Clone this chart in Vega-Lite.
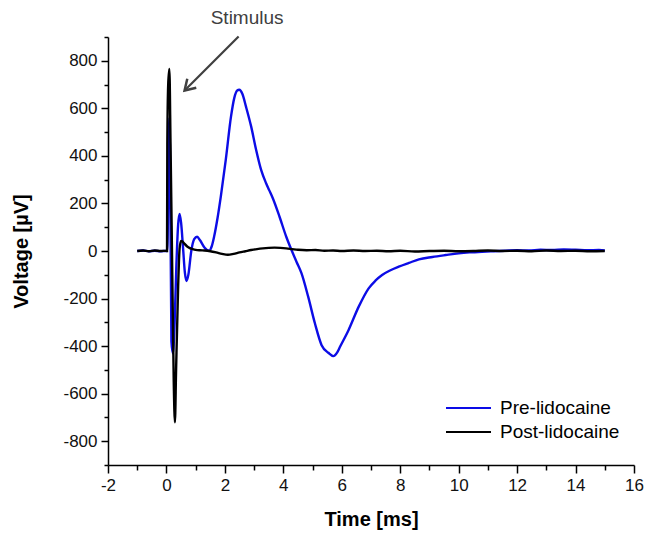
{
  "$schema": "https://vega.github.io/schema/vega-lite/v6.json",
  "width": 526,
  "height": 428,
  "autosize": {"type": "none"},
  "padding": {"left": 108, "top": 37, "right": 13, "bottom": 68},
  "config": {
    "view": {"stroke": null},
    "font": "Liberation Sans",
    "axis": {
      "grid": false,
      "domainColor": "#000",
      "domainWidth": 1.5,
      "tickColor": "#000",
      "tickWidth": 1.5,
      "labelFont": "Liberation Sans",
      "labelFontSize": 17,
      "labelColor": "#111",
      "titleFont": "Liberation Sans",
      "titleFontSize": 20,
      "titleFontWeight": "bold",
      "titleColor": "#000"
    },
    "legend": {
      "orient": "none",
      "legendX": 337,
      "legendY": 361,
      "padding": 0,
      "symbolType": "stroke",
      "symbolSize": 2025,
      "symbolStrokeWidth": 2,
      "clipHeight": 20,
      "labelFont": "Liberation Sans",
      "labelFontSize": 19,
      "labelColor": "#000",
      "labelOffset": 8,
      "rowPadding": 4
    }
  },
  "datasets": {
    "curves": [
      {"series": "Pre-lidocaine", "t": -1, "v": 0},
      {"series": "Pre-lidocaine", "t": -0.8, "v": 2},
      {"series": "Pre-lidocaine", "t": -0.6, "v": -1},
      {"series": "Pre-lidocaine", "t": -0.4, "v": 1},
      {"series": "Pre-lidocaine", "t": -0.2, "v": -1},
      {"series": "Pre-lidocaine", "t": 0, "v": 1},
      {"series": "Pre-lidocaine", "t": 0.03, "v": 0},
      {"series": "Pre-lidocaine", "t": 0.07, "v": 350},
      {"series": "Pre-lidocaine", "t": 0.1, "v": 560},
      {"series": "Pre-lidocaine", "t": 0.13, "v": 300},
      {"series": "Pre-lidocaine", "t": 0.17, "v": -380},
      {"series": "Pre-lidocaine", "t": 0.22, "v": -430},
      {"series": "Pre-lidocaine", "t": 0.28, "v": -300},
      {"series": "Pre-lidocaine", "t": 0.34, "v": -60},
      {"series": "Pre-lidocaine", "t": 0.4, "v": 110},
      {"series": "Pre-lidocaine", "t": 0.45, "v": 156},
      {"series": "Pre-lidocaine", "t": 0.5, "v": 120},
      {"series": "Pre-lidocaine", "t": 0.57, "v": 10},
      {"series": "Pre-lidocaine", "t": 0.63, "v": -90},
      {"series": "Pre-lidocaine", "t": 0.69, "v": -126},
      {"series": "Pre-lidocaine", "t": 0.75, "v": -100},
      {"series": "Pre-lidocaine", "t": 0.85, "v": 0},
      {"series": "Pre-lidocaine", "t": 0.95, "v": 50},
      {"series": "Pre-lidocaine", "t": 1.05, "v": 60},
      {"series": "Pre-lidocaine", "t": 1.15, "v": 45},
      {"series": "Pre-lidocaine", "t": 1.3, "v": 15},
      {"series": "Pre-lidocaine", "t": 1.46, "v": 1},
      {"series": "Pre-lidocaine", "t": 1.55, "v": 20},
      {"series": "Pre-lidocaine", "t": 1.63, "v": 60},
      {"series": "Pre-lidocaine", "t": 1.75, "v": 140},
      {"series": "Pre-lidocaine", "t": 1.86, "v": 229},
      {"series": "Pre-lidocaine", "t": 2.03, "v": 383},
      {"series": "Pre-lidocaine", "t": 2.21, "v": 566},
      {"series": "Pre-lidocaine", "t": 2.32, "v": 643},
      {"series": "Pre-lidocaine", "t": 2.42, "v": 675},
      {"series": "Pre-lidocaine", "t": 2.49, "v": 678},
      {"series": "Pre-lidocaine", "t": 2.6, "v": 660},
      {"series": "Pre-lidocaine", "t": 2.72, "v": 608},
      {"series": "Pre-lidocaine", "t": 2.9, "v": 523},
      {"series": "Pre-lidocaine", "t": 3.07, "v": 425},
      {"series": "Pre-lidocaine", "t": 3.24, "v": 341},
      {"series": "Pre-lidocaine", "t": 3.41, "v": 285},
      {"series": "Pre-lidocaine", "t": 3.52, "v": 255},
      {"series": "Pre-lidocaine", "t": 3.64, "v": 222},
      {"series": "Pre-lidocaine", "t": 3.87, "v": 144},
      {"series": "Pre-lidocaine", "t": 4.1, "v": 60},
      {"series": "Pre-lidocaine", "t": 4.28, "v": 4},
      {"series": "Pre-lidocaine", "t": 4.45, "v": -45},
      {"series": "Pre-lidocaine", "t": 4.62, "v": -93},
      {"series": "Pre-lidocaine", "t": 4.85, "v": -192},
      {"series": "Pre-lidocaine", "t": 5.08, "v": -304},
      {"series": "Pre-lidocaine", "t": 5.31, "v": -396},
      {"series": "Pre-lidocaine", "t": 5.54, "v": -428},
      {"series": "Pre-lidocaine", "t": 5.71, "v": -442},
      {"series": "Pre-lidocaine", "t": 5.85, "v": -425},
      {"series": "Pre-lidocaine", "t": 5.94, "v": -403},
      {"series": "Pre-lidocaine", "t": 6.23, "v": -333},
      {"series": "Pre-lidocaine", "t": 6.58, "v": -234},
      {"series": "Pre-lidocaine", "t": 6.92, "v": -157},
      {"series": "Pre-lidocaine", "t": 7.15, "v": -125},
      {"series": "Pre-lidocaine", "t": 7.38, "v": -101},
      {"series": "Pre-lidocaine", "t": 7.65, "v": -82},
      {"series": "Pre-lidocaine", "t": 7.95, "v": -66},
      {"series": "Pre-lidocaine", "t": 8.3, "v": -50},
      {"series": "Pre-lidocaine", "t": 8.64, "v": -35},
      {"series": "Pre-lidocaine", "t": 9.1, "v": -25},
      {"series": "Pre-lidocaine", "t": 9.56, "v": -17},
      {"series": "Pre-lidocaine", "t": 10, "v": -10},
      {"series": "Pre-lidocaine", "t": 10.37, "v": -6},
      {"series": "Pre-lidocaine", "t": 10.8, "v": -3},
      {"series": "Pre-lidocaine", "t": 11.2, "v": -1},
      {"series": "Pre-lidocaine", "t": 11.6, "v": 1},
      {"series": "Pre-lidocaine", "t": 12, "v": 3},
      {"series": "Pre-lidocaine", "t": 12.4, "v": 2},
      {"series": "Pre-lidocaine", "t": 12.8, "v": 5},
      {"series": "Pre-lidocaine", "t": 13.2, "v": 4},
      {"series": "Pre-lidocaine", "t": 13.6, "v": 6},
      {"series": "Pre-lidocaine", "t": 14, "v": 5},
      {"series": "Pre-lidocaine", "t": 14.4, "v": 3},
      {"series": "Pre-lidocaine", "t": 14.8, "v": 4},
      {"series": "Pre-lidocaine", "t": 15, "v": 2},
      {"series": "Post-lidocaine", "t": -1, "v": 0},
      {"series": "Post-lidocaine", "t": -0.8, "v": 2},
      {"series": "Post-lidocaine", "t": -0.6, "v": -1},
      {"series": "Post-lidocaine", "t": -0.4, "v": 2},
      {"series": "Post-lidocaine", "t": -0.2, "v": 0},
      {"series": "Post-lidocaine", "t": 0, "v": 1},
      {"series": "Post-lidocaine", "t": 0.02, "v": 0},
      {"series": "Post-lidocaine", "t": 0.03, "v": 450},
      {"series": "Post-lidocaine", "t": 0.06, "v": 700},
      {"series": "Post-lidocaine", "t": 0.1, "v": 766},
      {"series": "Post-lidocaine", "t": 0.14, "v": 450},
      {"series": "Post-lidocaine", "t": 0.2, "v": -100},
      {"series": "Post-lidocaine", "t": 0.25, "v": -550},
      {"series": "Post-lidocaine", "t": 0.29, "v": -720},
      {"series": "Post-lidocaine", "t": 0.33, "v": -500},
      {"series": "Post-lidocaine", "t": 0.4, "v": -150},
      {"series": "Post-lidocaine", "t": 0.45, "v": 10},
      {"series": "Post-lidocaine", "t": 0.5, "v": 42},
      {"series": "Post-lidocaine", "t": 0.55, "v": 40},
      {"series": "Post-lidocaine", "t": 0.62, "v": 30},
      {"series": "Post-lidocaine", "t": 0.7, "v": 20},
      {"series": "Post-lidocaine", "t": 0.8, "v": 12},
      {"series": "Post-lidocaine", "t": 0.9, "v": 8},
      {"series": "Post-lidocaine", "t": 1.0, "v": 5},
      {"series": "Post-lidocaine", "t": 1.15, "v": 3},
      {"series": "Post-lidocaine", "t": 1.3, "v": 2},
      {"series": "Post-lidocaine", "t": 1.5, "v": -1},
      {"series": "Post-lidocaine", "t": 1.7, "v": -6},
      {"series": "Post-lidocaine", "t": 1.9, "v": -12},
      {"series": "Post-lidocaine", "t": 2.1, "v": -16},
      {"series": "Post-lidocaine", "t": 2.3, "v": -12},
      {"series": "Post-lidocaine", "t": 2.5, "v": -6},
      {"series": "Post-lidocaine", "t": 2.7, "v": -1},
      {"series": "Post-lidocaine", "t": 2.9, "v": 4},
      {"series": "Post-lidocaine", "t": 3.1, "v": 8},
      {"series": "Post-lidocaine", "t": 3.3, "v": 11},
      {"series": "Post-lidocaine", "t": 3.5, "v": 13},
      {"series": "Post-lidocaine", "t": 3.7, "v": 14},
      {"series": "Post-lidocaine", "t": 3.9, "v": 13},
      {"series": "Post-lidocaine", "t": 4.1, "v": 11},
      {"series": "Post-lidocaine", "t": 4.3, "v": 8},
      {"series": "Post-lidocaine", "t": 4.5, "v": 5},
      {"series": "Post-lidocaine", "t": 4.8, "v": 3},
      {"series": "Post-lidocaine", "t": 5.1, "v": 4},
      {"series": "Post-lidocaine", "t": 5.4, "v": 1},
      {"series": "Post-lidocaine", "t": 5.7, "v": 2},
      {"series": "Post-lidocaine", "t": 6, "v": 0},
      {"series": "Post-lidocaine", "t": 6.4, "v": 2},
      {"series": "Post-lidocaine", "t": 6.8, "v": 0},
      {"series": "Post-lidocaine", "t": 7.2, "v": 1},
      {"series": "Post-lidocaine", "t": 7.6, "v": -1},
      {"series": "Post-lidocaine", "t": 8, "v": 1},
      {"series": "Post-lidocaine", "t": 8.5, "v": -2},
      {"series": "Post-lidocaine", "t": 9, "v": 0},
      {"series": "Post-lidocaine", "t": 9.5, "v": 1},
      {"series": "Post-lidocaine", "t": 10, "v": -1},
      {"series": "Post-lidocaine", "t": 10.5, "v": 0},
      {"series": "Post-lidocaine", "t": 11, "v": 2},
      {"series": "Post-lidocaine", "t": 11.5, "v": 0},
      {"series": "Post-lidocaine", "t": 12, "v": 1},
      {"series": "Post-lidocaine", "t": 12.5, "v": -1},
      {"series": "Post-lidocaine", "t": 13, "v": 2},
      {"series": "Post-lidocaine", "t": 13.5, "v": 0},
      {"series": "Post-lidocaine", "t": 14, "v": 1},
      {"series": "Post-lidocaine", "t": 14.5, "v": -1},
      {"series": "Post-lidocaine", "t": 15, "v": 0}
    ],
    "arrow": [{"t": 2.47, "v": 902, "t2": 0.62, "v2": 675}],
    "head": [{"t": 0.62, "v": 675}],
    "label": [{"t": 2.76, "v": 981, "text": "Stimulus"}]
  },
  "encoding": {
    "x": {
      "field": "t", "type": "quantitative", "title": "Time [ms]",
      "scale": {"domain": [-2, 16], "nice": false, "zero": false},
      "axis": {
        "values": [-2, -1, 0, 1, 2, 3, 4, 5, 6, 7, 8, 9, 10, 11, 12, 13, 14, 15, 16],
        "labelExpr": "datum.value % 2 === 0 ? '' + datum.value : ''",
        "tickSize": {"condition": {"test": "datum.value % 2 === 0", "value": 8}, "value": 5},
        "labelPadding": 4,
        "titlePadding": 16,
        "labelFlush": false,
        "labelOverlap": false
      }
    },
    "y": {
      "field": "v", "type": "quantitative", "title": "Voltage [µV]",
      "scale": {"domain": [-900, 900], "nice": false, "zero": false},
      "axis": {
        "values": [-900, -800, -700, -600, -500, -400, -300, -200, -100, 0, 100, 200, 300, 400, 500, 600, 700, 800, 900],
        "labelExpr": "datum.value % 200 === 0 ? '' + datum.value : ''",
        "tickSize": {"condition": {"test": "datum.value % 200 === 0", "value": 7}, "value": 4},
        "labelPadding": 4,
        "titlePadding": 31,
        "labelFlush": false,
        "labelOverlap": false
      }
    }
  },
  "layer": [
    {
      "data": {"name": "curves"},
      "mark": {"type": "line", "strokeWidth": 2.4, "interpolate": "monotone"},
      "encoding": {
        "color": {
          "field": "series", "type": "nominal",
          "scale": {"domain": ["Pre-lidocaine", "Post-lidocaine"], "range": ["#0c0ce6", "#000000"]},
          "legend": {"title": null}
        }
      }
    },
    {
      "data": {"name": "arrow"},
      "mark": {"type": "rule", "strokeWidth": 2.2, "color": "#404040"},
      "encoding": {
        "x2": {"field": "t2"},
        "y2": {"field": "v2"}
      }
    },
    {
      "data": {"name": "head"},
      "mark": {"type": "point", "shape": "M-0.53,0.85L0,0L0.53,0.85", "filled": false, "size": 576, "strokeWidth": 2.5, "color": "#404040", "angle": 225, "opacity": 1}
    },
    {
      "data": {"name": "label"},
      "mark": {"type": "text", "fontSize": 19, "font": "Liberation Sans", "color": "#404040", "baseline": "middle", "align": "center"},
      "encoding": {
        "text": {"field": "text"}
      }
    }
  ]
}
